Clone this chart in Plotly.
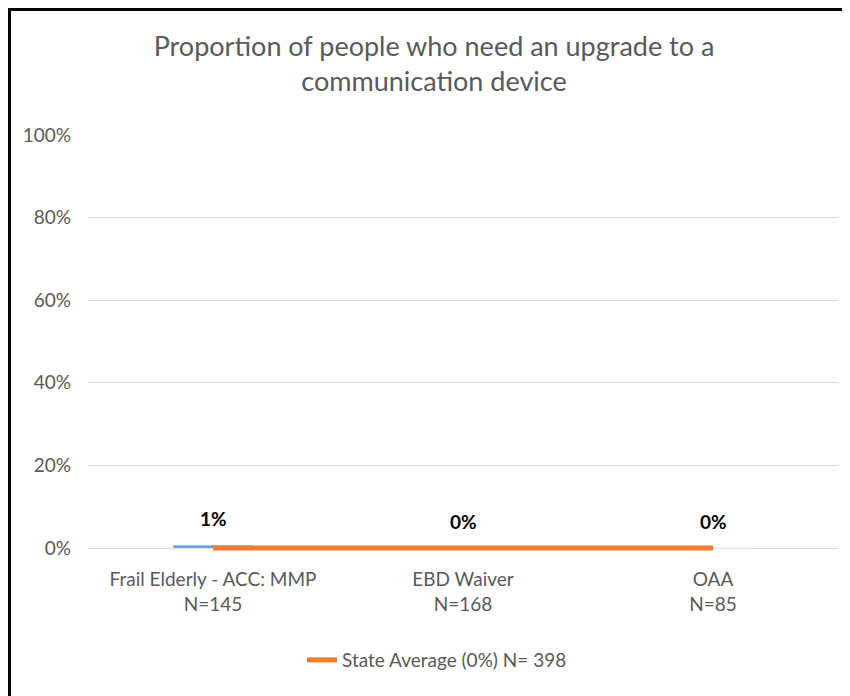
import plotly.graph_objects as go

categories = ["Frail Elderly - ACC: MMP<br>N=145", "EBD Waiver<br>N=168", "OAA<br>N=85"]
values = [0.007, 0.0, 0.0]
state_avg = [0.0, 0.0, 0.0]
state_label = "State Average (0%) N= 398"
tick_vals = [0, 0.2, 0.4, 0.6, 0.8, 1.0]
tick_text = ["0%", "20%", "40%", "60%", "80%", "100%"]
title_text = "Proportion of people who need an upgrade to a<br>communication device"

# page has an 8px body margin, so the figure is 842x688 and offset by 8px
OFF = 8
W, H = 842, 688
Y_MIN = -0.012
ML, MR, MT, MB = 80, 12, 127, 143
pw = W - ML - MR
ph = H - MT - MB

def px_x(p):
    return (p - OFF - ML) / pw

def px_y(p):
    return (H - MB - (p - OFF)) / ph

font_family = "Lato, 'Open Sans', sans-serif"
grey = "#595959"

fig = go.Figure()
fig.add_trace(go.Bar(
    x=categories, y=values, marker_color="#5B9BD5", showlegend=False,
    hoverinfo="skip",
))
fig.add_trace(go.Scatter(
    x=categories, y=state_avg, mode="lines", name=state_label,
    line=dict(color="#ED7D31", width=5),
))

for c, v in zip(categories, values):
    fig.add_annotation(
        x=c, y=v, text="<b>%d%%</b>" % round(v * 100), showarrow=False,
        yshift=27, font=dict(size=19, color="#000000", family=font_family),
    )

left = px_x(OFF + 1.5)
top = px_y(OFF + 1.5)
fig.add_shape(
    type="path", xref="paper", yref="paper",
    path=f"M {left} {px_y(720)} L {left} {top} L {px_x(880)} {top}",
    line=dict(color="black", width=3),
)

fig.update_layout(
    width=W, height=H,
    margin=dict(l=ML, r=MR, t=MT, b=MB),
    paper_bgcolor="white", plot_bgcolor="white",
    bargap=0.68,
    title=dict(text=title_text, x=(434 - OFF) / W, xanchor="center",
               y=1 - (56 - OFF) / H, yanchor="middle",
               font=dict(size=27, color=grey, family=font_family)),
    font=dict(family=font_family, color=grey, size=19),
    legend=dict(orientation="h", x=px_x(437), xanchor="center", y=px_y(660), yanchor="middle",
                font=dict(size=19, color=grey)),
    xaxis=dict(showgrid=False, showline=False, ticks="", tickfont=dict(size=19, color=grey),
               ticklabelstandoff=13),
    yaxis=dict(range=[Y_MIN, 1], tickvals=tick_vals, ticktext=tick_text, showgrid=True,
               gridcolor="#D9D9D9", gridwidth=1, zeroline=True, zerolinecolor="#D9D9D9",
               zerolinewidth=1, showline=False, ticks="", ticklen=0,
               tickfont=dict(size=19, color=grey), ticklabelstandoff=16),
)

fig.write_html("out.html")
